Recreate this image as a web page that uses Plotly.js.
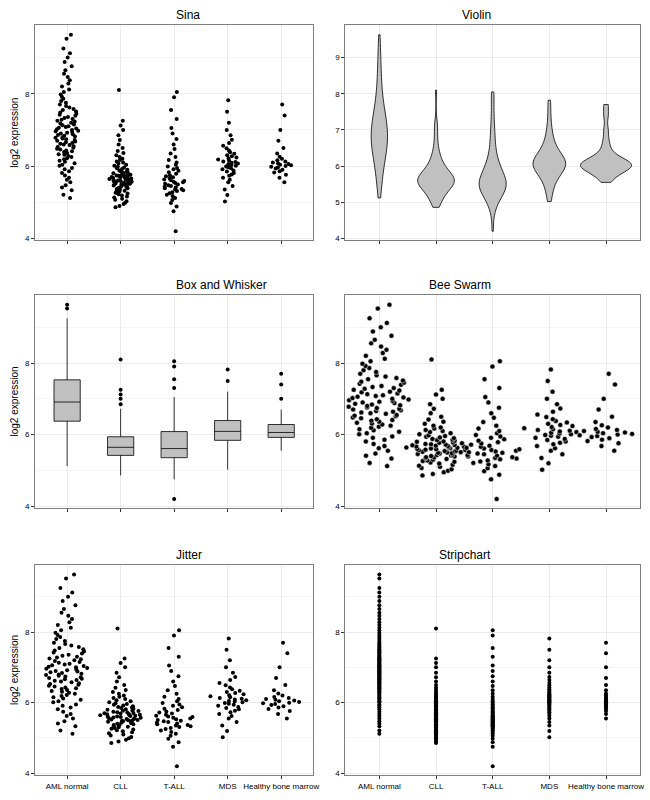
<!DOCTYPE html>
<html>
<head>
<meta charset="utf-8">
<script src="https://cdn.plot.ly/plotly-3.0.1.min.js"></script>
<style>body{margin:0;background:#fff}</style>
</head>
<body>
<div id="chart" style="width:650px;height:800px"></div>
<script>
const groups = ["AML normal", "CLL", "T-ALL", "MDS", "Healthy bone marrow"];

const amlNormal = [5.12,5.21,5.33,5.41,5.47,5.55,5.62,5.68,5.74,5.81,5.86,5.91,5.95,6.01,6.04,6.08,6.12,6.15,6.19,6.22,6.25,6.28,6.31,6.33,6.36,6.39,6.41,6.43,6.46,6.48,6.51,6.53,6.55,6.58,6.6,6.62,6.64,6.66,6.68,6.7,6.72,6.74,6.76,6.78,6.8,6.82,6.84,6.86,6.88,6.9,6.92,6.94,6.96,6.98,7.0,7.02,7.04,7.06,7.08,7.1,7.13,7.15,7.18,7.2,7.23,7.25,7.28,7.3,7.33,7.36,7.39,7.42,7.45,7.48,7.51,7.55,7.58,7.62,7.66,7.7,7.75,7.8,7.86,7.92,7.98,8.05,8.12,8.2,8.28,8.37,8.46,8.55,8.65,8.76,8.88,9.0,9.12,9.25,9.52,9.63];
const cll = [4.86,4.9,4.95,4.99,5.03,5.07,5.1,5.13,5.16,5.19,5.22,5.24,5.26,5.28,5.3,5.32,5.34,5.36,5.37,5.39,5.4,5.42,5.43,5.44,5.46,5.47,5.48,5.49,5.5,5.51,5.52,5.53,5.54,5.55,5.56,5.57,5.58,5.59,5.6,5.61,5.62,5.63,5.64,5.65,5.66,5.67,5.68,5.69,5.7,5.71,5.72,5.73,5.74,5.76,5.77,5.78,5.8,5.81,5.83,5.85,5.86,5.88,5.9,5.92,5.94,5.96,5.98,6.01,6.04,6.07,6.1,6.13,6.17,6.2,6.25,6.3,6.36,6.42,6.5,6.6,6.72,6.85,7.0,7.12,7.25,8.1];
const tAll = [4.2,4.75,4.88,4.98,5.06,5.12,5.17,5.21,5.25,5.28,5.31,5.33,5.35,5.37,5.39,5.41,5.43,5.45,5.47,5.49,5.51,5.53,5.55,5.57,5.59,5.61,5.63,5.66,5.69,5.72,5.75,5.79,5.83,5.87,5.91,5.95,5.99,6.04,6.1,6.17,6.25,6.35,6.47,6.6,6.75,6.9,7.05,7.3,7.55,7.9,8.05];
const mds = [5.02,5.2,5.35,5.45,5.55,5.62,5.68,5.73,5.77,5.81,5.85,5.88,5.91,5.94,5.97,5.99,6.01,6.03,6.05,6.07,6.09,6.11,6.13,6.15,6.18,6.21,6.24,6.27,6.3,6.34,6.38,6.43,6.49,6.56,6.64,6.73,6.85,7.0,7.2,7.5,7.82];
const healthy = [5.55,5.68,5.76,5.82,5.86,5.9,5.93,5.96,5.98,6.0,6.02,6.04,6.06,6.08,6.1,6.13,6.16,6.2,6.26,6.35,6.5,6.7,7.0,7.4,7.7];

const series = [amlNormal, cll, tAll, mds, healthy];
const xs = [], ys = [];
series.forEach((vals, i) => vals.forEach(v => { xs.push(groups[i]); ys.push(v); }));

const pt = {color: "black", size: 4};
const clear = "rgba(0,0,0,0)";
const data = [
  {type: "violin", x: xs, y: ys, xaxis: "x", yaxis: "y", points: "all", pointpos: 0, jitter: 0.9,
   fillcolor: clear, line: {color: clear}, marker: pt, spanmode: "hard"},
  {type: "violin", x: xs, y: ys, xaxis: "x2", yaxis: "y2", points: false, fillcolor: "#c0c0c0",
   line: {color: "black", width: 0.8}, spanmode: "hard", width: 0.9},
  {type: "box", x: xs, y: ys, xaxis: "x3", yaxis: "y3", boxpoints: "outliers", fillcolor: "#c0c0c0",
   line: {color: "black", width: 0.8}, marker: pt, whiskerwidth: 0},
  {type: "violin", x: xs, y: ys, xaxis: "x4", yaxis: "y4", points: "all", pointpos: 0, jitter: 1,
   fillcolor: clear, line: {color: clear}, marker: {color: "black", size: 5, line: {color: "white", width: 0.5}}, spanmode: "hard", width: 1.1},
  {type: "box", x: xs, y: ys, xaxis: "x5", yaxis: "y5", boxpoints: "all", pointpos: 0, jitter: 1,
   fillcolor: clear, line: {color: clear}, marker: pt, whiskerwidth: 0, width: 0.8},
  {type: "box", x: xs, y: ys, xaxis: "x6", yaxis: "y6", boxpoints: "all", pointpos: 0, jitter: 0,
   fillcolor: clear, line: {color: clear}, marker: pt, whiskerwidth: 0}
];

const layout = {
  width: 650, height: 800, showlegend: false,
  margin: {l: 35, r: 10, t: 25, b: 25},
  paper_bgcolor: "white", plot_bgcolor: "white",
  font: {family: "Liberation Sans, Arial", size: 9, color: "black"},
  annotations: []
};
const titles = ["Sina", "Violin", "Box and Whisker", "Bee Swarm", "Jitter", "Stripchart"];
const xd = [[0, 0.46], [0.513, 1]];
const yd = [[0.713, 1], [0.356, 0.64], [0, 0.28]];
for (let i = 0; i < 6; i++) {
  const n = i === 0 ? "" : String(i + 1);
  const col = i % 2, row = Math.floor(i / 2);
  layout["xaxis" + n] = {
    domain: xd[col], anchor: "y" + n, type: "category", categoryarray: groups,
    showticklabels: row === 2, ticks: "outside", ticklen: 3, tickcolor: "#333",
    showgrid: true, gridcolor: "#ebebeb", mirror: true, showline: true, linecolor: "#7f7f7f",
    linewidth: 1, zeroline: false, tickfont: {size: 8}, range: [-0.6, 4.6]
  };
  layout["yaxis" + n] = {
    domain: yd[row], anchor: "x" + n, range: [3.95, 9.9],
    tickvals: i === 1 ? [4, 5, 6, 7, 8, 9] : [4, 6, 8],
    ticks: "outside", ticklen: 3, tickcolor: "#333", showgrid: true, gridcolor: "#ebebeb",
    minor: {dtick: 1, tick0: 5, showgrid: true, gridcolor: "#f5f5f5"},
    mirror: true, showline: true, linecolor: "#7f7f7f", linewidth: 1, zeroline: false,
    tickfont: {size: 8},
    title: col === 0 ? {text: "log2 expression", font: {size: 10}, standoff: 4} : undefined
  };
  layout.annotations.push({
    text: titles[i], xref: "paper", yref: "paper", showarrow: false,
    x: (xd[col][0] + xd[col][1]) / 2, y: yd[row][1], yanchor: "bottom", yshift: 1,
    font: {size: 12}
  });
}

Plotly.newPlot("chart", data, layout, {displayModeBar: false});
</script>
</body>
</html>
